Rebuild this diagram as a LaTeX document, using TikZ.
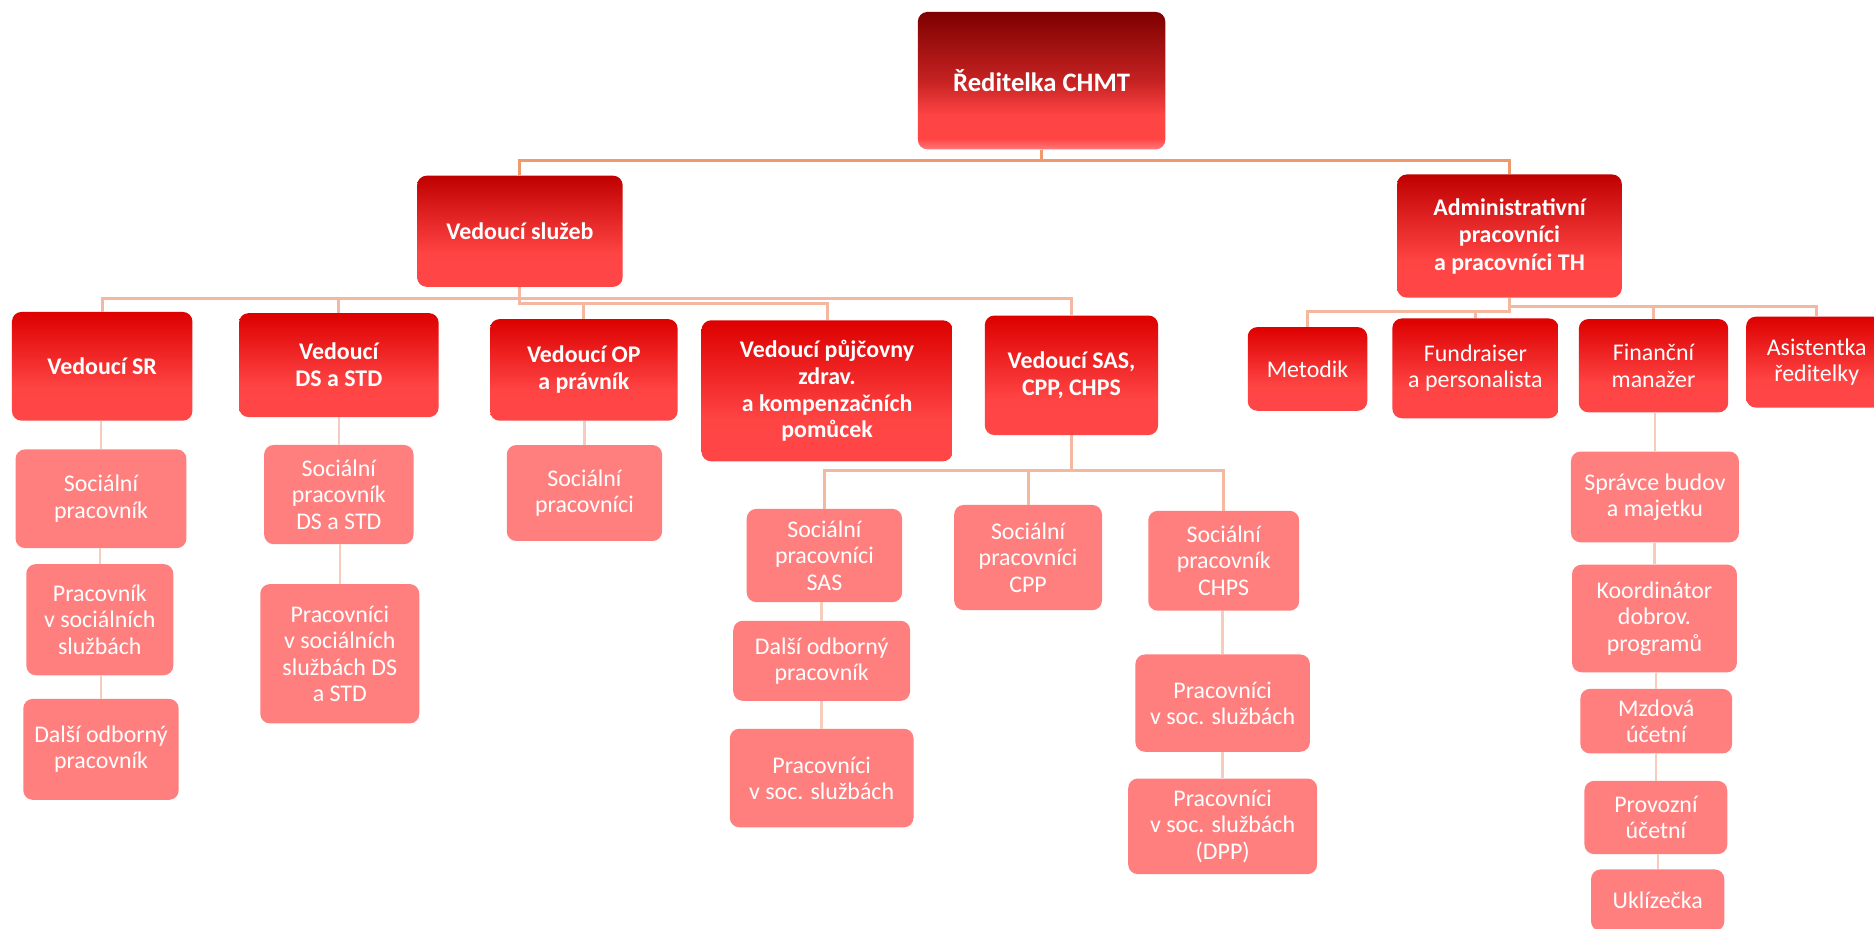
\documentclass[tikz,border=0pt]{standalone}
\usepackage{fontspec}
\setmainfont{Carlito}
\definecolor{lfour}{HTML}{FF7F7F}
\definecolor{conA}{HTML}{EE9A6C}
\definecolor{conB}{HTML}{F4B8A0}
\definecolor{conC}{HTML}{F6CCBC}
\definecolor{dA}{HTML}{7E0000}
\definecolor{dC}{HTML}{C52222}
\definecolor{dD}{HTML}{FF4444}
\definecolor{dE}{HTML}{FF7A7A}
\definecolor{vA}{HTML}{C00000}
\definecolor{vD}{HTML}{FF4646}
\definecolor{tA}{HTML}{DD0000}
\pgfdeclareverticalshading{dirsh}{100bp}{color(0bp)=(dE); color(25bp)=(dE); color(29bp)=(dD); color(37.5bp)=(dD); color(50bp)=(dC); color(75bp)=(dA); color(100bp)=(dA)}
\pgfdeclareverticalshading{levtwosh}{100bp}{color(0bp)=(vD); color(25bp)=(vD); color(40bp)=(dD); color(75bp)=(vA); color(100bp)=(vA)}
\pgfdeclareverticalshading{levthreesh}{100bp}{color(0bp)=(vD); color(25bp)=(vD); color(40bp)=(dD); color(75bp)=(tA); color(100bp)=(tA)}
\tikzset{
  box/.style={rounded corners=8pt, inner sep=2pt, align=center, text=white, font=\fontsize{20}{22}\selectfont},
  dirbox/.style={box, shading=dirsh, font=\bfseries\fontsize{22.3}{26}\selectfont},
  ltwobox/.style={box, shading=levtwosh, font=\bfseries\fontsize{20}{23}\selectfont},
  lthreebbox/.style={box, shading=levthreesh, font=\bfseries\fontsize{20}{22.5}\selectfont},
  lthreebox/.style={box, shading=levthreesh},
  lfourbox/.style={box, fill=lfour},
  ca/.style={draw=conA, line width=2.5pt},
  cb/.style={draw=conB, line width=2.5pt},
  cc/.style={draw=conC, line width=2pt},
}
\begin{document}
\begin{tikzpicture}[x=1pt,y=-1pt]
\useasboundingbox (0,0) rectangle (1568,777);
\clip (0,0) rectangle (1568,777);
\fill[white] (0,0) rectangle (1568,777);
% bus levels
\coordinate (ya) at (0,134);
\coordinate (yb) at (0,250);
\coordinate (yc) at (0,254);
\coordinate (yd) at (0,256.5);
\coordinate (ye) at (0,261);
\coordinate (yf) at (0,394);
% level 1
\node[dirbox, minimum width=207pt, minimum height=115pt] (dir) at (871.5,67.5) {Ředitelka CHMT};
% level 2
\node[ltwobox, minimum width=172pt, minimum height=93pt] (vs) at (435,193.5) {Vedoucí služeb};
\node[ltwobox, minimum width=188pt, minimum height=103pt] (adm) at (1263,197.5) {Administrativní\\pracovníci\\a pracovníci TH};
% level 3 left
\node[lthreebbox, minimum width=151pt, minimum height=91pt] (sr) at (85.5,306.5) {Vedoucí SR};
\node[lthreebbox, minimum width=167pt, minimum height=87pt] (ds) at (283.5,305.5) {Vedoucí\\DS a STD};
\node[lthreebbox, minimum width=157pt, minimum height=85pt] (op) at (488.5,309.5) {Vedoucí OP\\a právník};
\node[lthreebbox, minimum width=210pt, minimum height=118pt] (pu) at (692,327) {Vedoucí půjčovny\\zdrav.\\a kompenzačních\\pomůcek};
\node[lthreebbox, minimum width=145pt, minimum height=100pt] (sas) at (896.5,314) {Vedoucí SAS,\\CPP, CHPS};
% level 3 right
\node[lthreebox, minimum width=100pt, minimum height=70pt] (met) at (1094,308.7) {Metodik};
\node[lthreebox, minimum width=139pt, minimum height=83.5pt] (fun) at (1234.5,308.2) {Fundraiser\\a personalista};
\node[lthreebox, minimum width=125pt, minimum height=78pt] (fin) at (1383.5,306) {Finanční\\manažer};
\node[lthreebox, minimum width=118pt, minimum height=76pt] (asi) at (1520,303) {Asistentka\\ředitelky};
% level 4
\node[lfourbox, minimum width=143pt, minimum height=82.6pt] (sra) at (84.5,417.3) {Sociální\\pracovník};
\node[lfourbox, minimum width=123pt, minimum height=93pt] (srb) at (83.5,518.5) {Pracovník\\v sociálních\\službách};
\node[lfourbox, minimum width=130pt, minimum height=84.5pt] (src) at (84.5,627) {Další odborný\\pracovník};
\node[lfourbox, minimum width=125pt, minimum height=83pt] (dsa) at (283.5,413.8) {Sociální\\pracovník\\DS a STD};
\node[lfourbox, minimum width=133pt, minimum height=116.6pt] (dsb) at (284.3,547) {Pracovníci\\v sociálních\\službách DS\\a STD};
\node[lfourbox, minimum width=130pt, minimum height=80.3pt] (opa) at (489,412.5) {Sociální\\pracovníci};
\node[lfourbox, minimum width=130pt, minimum height=78pt] (sasa) at (689.8,464.8) {Sociální\\pracovníci\\SAS};
\node[lfourbox, minimum width=148pt, minimum height=67pt] (sasb) at (687.5,552.9) {Další odborný\\pracovník};
\node[lfourbox, minimum width=153.7pt, minimum height=82.5pt] (sasc) at (687.5,651) {Pracovníci\\v soc. službách};
\node[lfourbox, minimum width=123.7pt, minimum height=88pt] (cpp) at (860.2,466.5) {Sociální\\pracovníci\\CPP};
\node[lfourbox, minimum width=126.3pt, minimum height=83.6pt] (chpsa) at (1023.9,469.2) {Sociální\\pracovník\\CHPS};
\node[lfourbox, minimum width=146pt, minimum height=81.4pt] (chpsb) at (1023,588.3) {Pracovníci\\v soc. službách};
\node[lfourbox, minimum width=158pt, minimum height=80pt] (chpsc) at (1023,691.4) {Pracovníci\\v soc. službách\\(DPP)};
\node[lfourbox, minimum width=140.5pt, minimum height=76pt] (fina) at (1384.7,415.8) {Správce budov\\a majetku};
\node[lfourbox, minimum width=138pt, minimum height=90pt] (finb) at (1384.3,517.5) {Koordinátor\\dobrov.\\programů};
\node[lfourbox, minimum width=127pt, minimum height=54pt] (finc) at (1385.8,603.4) {Mzdová\\účetní};
\node[lfourbox, minimum width=119.5pt, minimum height=61.3pt] (find) at (1385.5,684) {Provozní\\účetní};
\node[lfourbox, minimum width=111.5pt, minimum height=51.5pt] (fine) at (1387,753.2) {Uklízečka};
% connectors level 1
\draw[ca] (dir.south) -- (dir.south |- ya) -| (vs.north);
\draw[ca] (dir.south |- ya) -| (adm.north);
% connectors level 2
\foreach \n in {sr,ds,sas} \draw[cb] (vs.south) -- (vs.south |- yb) -| (\n.north);
\foreach \n in {op,pu} \draw[cb] (vs.south) -- (vs.south |- yc) -| (\n.north);
\foreach \n in {met,fun} \draw[cb] (adm.south) -- (adm.south |- ye) -| (\n.north);
\foreach \n in {fin,asi} \draw[cb] (adm.south) -- (adm.south |- yd) -| (\n.north);
\foreach \n in {sasa,cpp,chpsa} \draw[cb] (sas.south) -- (sas.south |- yf) -| (\n.north);
% chains
\draw[cc] (sra.north |- sr.south) -- (sra.north);
\draw[cc] (srb.north |- sra.south) -- (srb.north);
\draw[cc] (src.north |- srb.south) -- (src.north);
\draw[cc] (dsa.north |- ds.south) -- (dsa.north);
\draw[cc] (dsb.north |- dsa.south) -- (dsb.north);
\draw[cc] (opa.north |- op.south) -- (opa.north);
\draw[cc] (sasb.north |- sasa.south) -- (sasb.north);
\draw[cc] (sasc.north |- sasb.south) -- (sasc.north);
\draw[cc] (chpsb.north |- chpsa.south) -- (chpsb.north);
\draw[cc] (chpsc.north |- chpsb.south) -- (chpsc.north);
\draw[cc] (fina.north |- fin.south) -- (fina.north);
\draw[cc] (finb.north |- fina.south) -- (finb.north);
\draw[cc] (finc.north |- finb.south) -- (finc.north);
\draw[cc] (find.north |- finc.south) -- (find.north);
\draw[cc] (fine.north |- find.south) -- (fine.north);
\end{tikzpicture}
\end{document}
